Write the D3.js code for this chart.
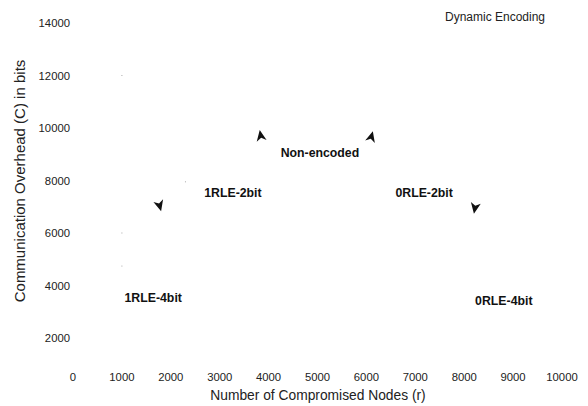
<!DOCTYPE html>
<html>
<head>
<meta charset="utf-8">
<script src="https://cdn.jsdelivr.net/npm/d3@7.9.0/dist/d3.min.js"></script>
<style>
  body { margin: 0; background: #fff; }
  svg { font-family: "Liberation Sans", Arial, sans-serif; }
</style>
</head>
<body>
<svg id="chart" width="588" height="406"></svg>
<script>
// Tick values for both axes
const xTicks = [0, 1000, 2000, 3000, 4000, 5000, 6000, 7000, 8000, 9000, 10000];
const yTicks = [2000, 4000, 6000, 8000, 10000, 12000, 14000];

// Curve labels (data coordinates)
const labelNames = ["Non-encoded", "1RLE-2bit", "0RLE-2bit", "1RLE-4bit", "0RLE-4bit"];
const labelX = [5050, 3270, 7180, 1640, 8810];
const labelY = [9050, 7520, 7520, 3520, 3410];

// Arrowheads left over from the annotation arrows
const arrowX = [3840, 6100, 1770, 8220];
const arrowY = [9700, 9660, 7050, 6960];
const arrowAngle = [-100, -75, 75, 100];

// Faint specks of the missing curves
const speckX = [1000, 2300, 1000, 1000];
const speckY = [12000, 7950, 6000, 4740];

const svg = d3.select("#chart");

// Scales
const x = d3.scaleLinear().domain([0, 10000]).range([73, 562]);
const y = d3.scaleLinear().domain([0, 14000]).range([390.5, 23]);

// X tick labels (no axis line)
svg.append("g")
    .selectAll("text")
    .data(xTicks)
    .join("text")
    .attr("x", d => x(d))
    .attr("y", 381)
    .attr("text-anchor", "middle")
    .attr("font-size", 11.3)
    .attr("fill", "#222")
    .text(d => d);

// Y tick labels
svg.append("g")
    .selectAll("text")
    .data(yTicks)
    .join("text")
    .attr("x", 70)
    .attr("y", d => y(d) + 4)
    .attr("text-anchor", "end")
    .attr("font-size", 11.3)
    .attr("fill", "#222")
    .text(d => d);

// Axis titles
svg.append("text")
    .attr("x", 318)
    .attr("y", 400)
    .attr("text-anchor", "middle")
    .attr("font-size", 13.8)
    .attr("fill", "#222")
    .text("Number of Compromised Nodes (r)");

svg.append("text")
    .attr("transform", "translate(25,181) rotate(-90)")
    .attr("text-anchor", "middle")
    .attr("font-size", 15)
    .attr("fill", "#222")
    .text("Communication Overhead (C) in bits");

// Title in the corner
svg.append("text")
    .attr("x", 495)
    .attr("y", 21)
    .attr("text-anchor", "middle")
    .attr("font-size", 12)
    .attr("fill", "#222")
    .text("Dynamic Encoding");

// Curve labels
svg.append("g")
    .selectAll("text")
    .data(labelNames)
    .join("text")
    .attr("x", (d, i) => x(labelX[i]))
    .attr("y", (d, i) => y(labelY[i]) + 4)
    .attr("text-anchor", "middle")
    .attr("font-size", 12.3)
    .attr("font-weight", "bold")
    .attr("fill", "#111")
    .text(d => d);

// Arrowheads
svg.append("g")
    .selectAll("path")
    .data(arrowX)
    .join("path")
    .attr("d", "M6,0 L-5,-5 L-2,0 L-5,5 Z")
    .attr("transform", (d, i) => `translate(${x(d)},${y(arrowY[i])}) rotate(${arrowAngle[i]})`)
    .attr("fill", "#111");

// Specks
svg.append("g")
    .selectAll("rect")
    .data(speckX)
    .join("rect")
    .attr("x", d => x(d) - 0.5)
    .attr("y", (d, i) => y(speckY[i]) - 0.5)
    .attr("width", 1)
    .attr("height", 1)
    .attr("fill", "#aaa");
</script>
</body>
</html>
